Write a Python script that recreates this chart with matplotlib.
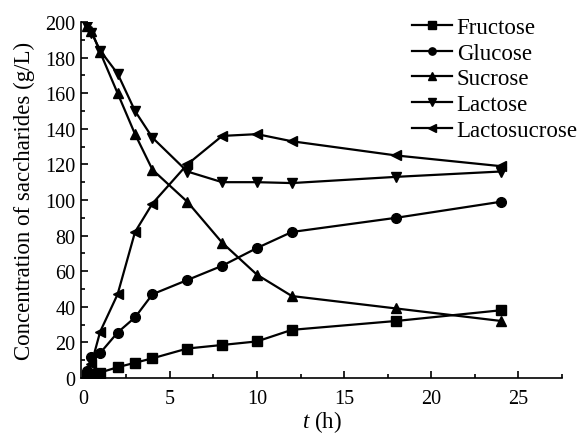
import numpy as np
import matplotlib.pyplot as plt
from matplotlib.ticker import MultipleLocator

# sampling times (h)
t = [0.25, 0.5, 1, 2, 3, 4, 6, 8, 10, 12, 18, 24]

fructose = [1, 2, 3, 6, 8.5, 11, 16.5, 18.5, 20.5, 27, 32, 38]
glucose = [4, 12, 14, 25.5, 34, 47, 55, 63, 73, 82, 90, 99]
sucrose = [198, 195, 183, 160, 137, 117, 99, 76, 58, 46, 39, 32]
lactose = [198, 194, 184, 171, 150, 135, 116, 110, 110, 109.5, 113, 116]
lactosucrose = [2, 8, 26, 47, 82, 98, 120, 136, 137, 133, 125, 119]

plt.rcParams['font.family'] = ['Liberation Serif', 'DejaVu Serif']
plt.rcParams['mathtext.fontset'] = 'custom'
plt.rcParams['mathtext.it'] = 'Liberation Serif:italic'

fig = plt.figure(figsize=(5.85, 4.35), dpi=100)
ax = fig.add_axes([0.1385, 0.129, 0.822, 0.818])

series = [
    ("Fructose", fructose, "s"),
    ("Glucose", glucose, "o"),
    ("Sucrose", sucrose, "^"),
    ("Lactose", lactose, "v"),
    ("Lactosucrose", lactosucrose, "<"),
]
for name, vals, m in series:
    ax.plot(t, vals, color="black", marker=m, markersize=7, linewidth=1.6, label=name)

ax.set_xlim(-0.1, 27.5)
ax.set_ylim(0, 200)
ax.xaxis.set_major_locator(MultipleLocator(5))
ax.xaxis.set_minor_locator(MultipleLocator(2.5))
ax.yaxis.set_major_locator(MultipleLocator(20))
ax.yaxis.set_minor_locator(MultipleLocator(10))
ax.tick_params(which="both", direction="in", labelsize=14.5, width=1.2)
ax.tick_params(which="major", length=5)
ax.tick_params(which="minor", length=3)
ax.tick_params(axis="x", which="major", pad=8)
ax.tick_params(axis="y", which="major", pad=4)
ax.spines["top"].set_visible(False)
ax.spines["right"].set_visible(False)
ax.spines["left"].set_linewidth(1.2)
ax.spines["bottom"].set_linewidth(1.2)

ax.set_xlabel("$t$ (h)", fontsize=16.5, labelpad=0)
ax.set_ylabel("Concentration of saccharides (g/L)", fontsize=16.5, labelpad=7)

leg = ax.legend(loc="upper right", bbox_to_anchor=(1.007, 0.985),
                bbox_transform=fig.transFigure, frameon=False, borderpad=0,
                fontsize=16.5, markerscale=0.75, handlelength=1.75,
                handletextpad=0.2, labelspacing=0.2)

fig.savefig("out.png", dpi=100)
